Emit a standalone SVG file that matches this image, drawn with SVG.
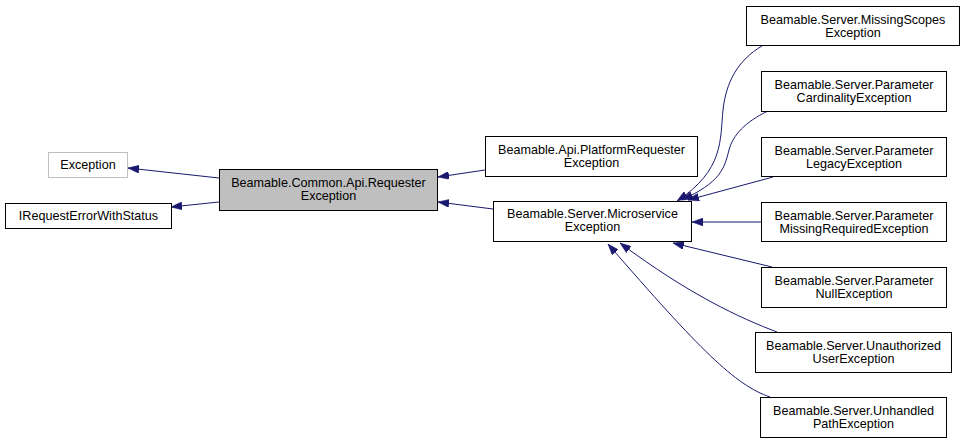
<svg xmlns="http://www.w3.org/2000/svg" width="965" height="444" viewBox="0 0 965 444">
<style>
.box{fill:#fff;stroke:#000;stroke-width:1}
.base{fill:#bfbfbf;stroke:#000;stroke-width:1}
.ext{fill:#fff;stroke:#bfbfbf;stroke-width:1}
text{font-family:"Liberation Sans",Arial,sans-serif;font-size:12.6px;fill:#000;text-anchor:middle}
.edge{fill:none;stroke:#191970;stroke-width:1;marker-end:url(#arr)}
</style>
<defs>
<marker id="arr" viewBox="0 0 11 8" refX="11" refY="4" markerWidth="11" markerHeight="8" markerUnits="userSpaceOnUse" orient="auto">
<path d="M0,0 L11,4 L0,8 z" fill="#191970" stroke="#191970" stroke-width="0.5"/>
</marker>
</defs>
<rect width="965" height="444" fill="#fff"/>
<g id="connectors">
<path class="edge" d="M219,178 L128,168"/>
<path class="edge" d="M219,202 L171,207"/>
<path class="edge" d="M485,170 L438,177"/>
<path class="edge" d="M493,209 L438,202"/>
<path class="edge" d="M762,46 C738,60 726,82 723,110 C720,140 724,170 677,201"/>
<path class="edge" d="M768,111 C745,122 733,135 729,150 C724,170 720,182 682,200"/>
<path class="edge" d="M773,177 L688,200"/>
<path class="edge" d="M761,222 L692,222"/>
<path class="edge" d="M772,267 L673,243"/>
<path class="edge" d="M777,332 C740,318 690,295 620,243"/>
<path class="edge" d="M770,397 C735,385 700,350 608,244"/>
</g>
<g id="node-exception">
<rect class="ext" x="48.5" y="152.5" width="79" height="25"/>
<text x="88" y="169">Exception</text>
</g>
<g id="node-irequesterror">
<rect class="box" x="5.5" y="203.5" width="166" height="25"/>
<text x="88.5" y="220">IRequestErrorWithStatus</text>
</g>
<g id="node-requester">
<rect class="base" x="219.5" y="169.5" width="218" height="41"/>
<text x="328.5" y="187">Beamable.Common.Api.Requester</text>
<text x="328.5" y="200">Exception</text>
</g>
<g id="node-platform">
<rect class="box" x="485.5" y="136.5" width="212" height="40"/>
<text x="591.5" y="153.5">Beamable.Api.PlatformRequester</text>
<text x="591.5" y="166.5">Exception</text>
</g>
<g id="node-microservice">
<rect class="box" x="493.5" y="201.5" width="198" height="40"/>
<text x="592.5" y="218">Beamable.Server.Microservice</text>
<text x="592.5" y="231">Exception</text>
</g>
<g id="node-missingscopes">
<rect class="box" x="746.5" y="6.5" width="213" height="39"/>
<text x="853" y="24">Beamable.Server.MissingScopes</text>
<text x="853" y="37">Exception</text>
</g>
<g id="node-cardinality">
<rect class="box" x="761.5" y="71.5" width="185" height="40"/>
<text x="854" y="89">Beamable.Server.Parameter</text>
<text x="854" y="102">CardinalityException</text>
</g>
<g id="node-legacy">
<rect class="box" x="761.5" y="137.5" width="185" height="39"/>
<text x="854" y="155">Beamable.Server.Parameter</text>
<text x="854" y="168">LegacyException</text>
</g>
<g id="node-missingrequired">
<rect class="box" x="761.5" y="202.5" width="185" height="39"/>
<text x="854" y="220">Beamable.Server.Parameter</text>
<text x="854" y="233">MissingRequiredException</text>
</g>
<g id="node-null">
<rect class="box" x="761.5" y="267.5" width="185" height="40"/>
<text x="854" y="285">Beamable.Server.Parameter</text>
<text x="854" y="298">NullException</text>
</g>
<g id="node-unauthorized">
<rect class="box" x="755.5" y="332.5" width="196" height="40"/>
<text x="853.5" y="350">Beamable.Server.Unauthorized</text>
<text x="853.5" y="363">UserException</text>
</g>
<g id="node-unhandled">
<rect class="box" x="760.5" y="397.5" width="186" height="40"/>
<text x="853.5" y="415">Beamable.Server.Unhandled</text>
<text x="853.5" y="428">PathException</text>
</g>
</svg>
